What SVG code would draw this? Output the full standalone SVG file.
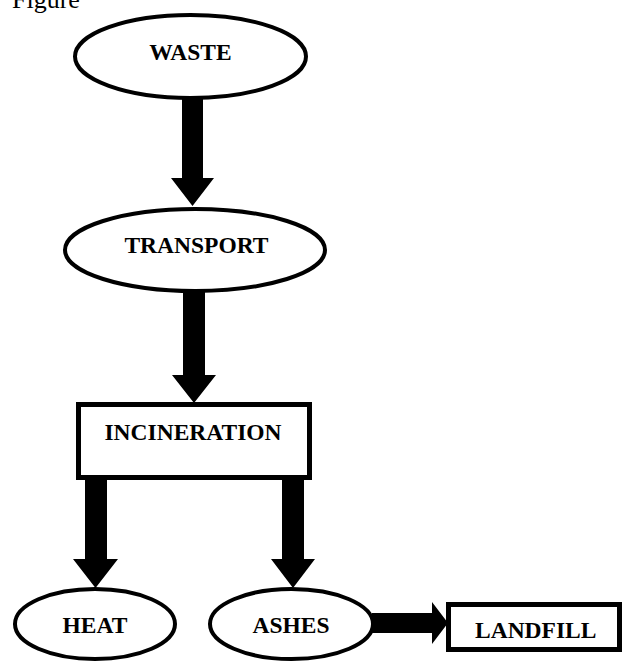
<svg xmlns="http://www.w3.org/2000/svg" width="624" height="664" viewBox="0 0 624 664">
<style>
.shape{fill:#fff;stroke:#000;stroke-width:4}
.box{fill:#fff;stroke:#000;stroke-width:5}
.lbl{font-family:"Liberation Serif","Times New Roman",serif;font-weight:bold;font-size:23.5px;fill:#000}
.cap{font-family:"Liberation Serif","Times New Roman",serif;font-size:26px;fill:#000}
.arr{fill:#000;stroke:none}
</style>
<rect width="624" height="664" fill="#fff"/>
<text class="cap" x="12" y="8">Figure</text>
<g id="connectors">
<polygon class="arr" points="182,99 203,99 203,178 214,178 192.5,206 171,178 182,178"/>
<polygon class="arr" points="183,292 205,292 205,375 216,375 194,403 172,375 183,375"/>
<polygon class="arr" points="85,479 107,479 107,559 118,559 95.5,588 73,559 85,559"/>
<polygon class="arr" points="282,479 304,479 304,559 315,559 293,588 271,559 282,559"/>
<polygon class="arr" points="372,613 432,613 432,602 448,623 432,644 432,633 372,633"/>
</g>
<g id="waste">
<ellipse class="shape" cx="190.5" cy="56.5" rx="115.5" ry="41.5"/>
<text class="lbl" x="190.5" y="60" text-anchor="middle">WASTE</text>
</g>
<g id="transport">
<ellipse class="shape" cx="195" cy="250" rx="130" ry="41"/>
<text class="lbl" x="196.5" y="253" text-anchor="middle">TRANSPORT</text>
</g>
<g id="incineration">
<rect class="box" x="78.5" y="404.5" width="231" height="73"/>
<text class="lbl" x="193" y="440" text-anchor="middle">INCINERATION</text>
</g>
<g id="heat">
<ellipse class="shape" cx="95" cy="624" rx="80" ry="35"/>
<text class="lbl" x="95" y="633" text-anchor="middle">HEAT</text>
</g>
<g id="ashes">
<ellipse class="shape" cx="291.5" cy="624" rx="81.5" ry="35"/>
<text class="lbl" x="291" y="633" text-anchor="middle">ASHES</text>
</g>
<g id="landfill">
<rect class="box" x="448.5" y="604.5" width="171" height="45"/>
<text class="lbl" x="475" y="638">LANDFILL</text>
</g>
</svg>
